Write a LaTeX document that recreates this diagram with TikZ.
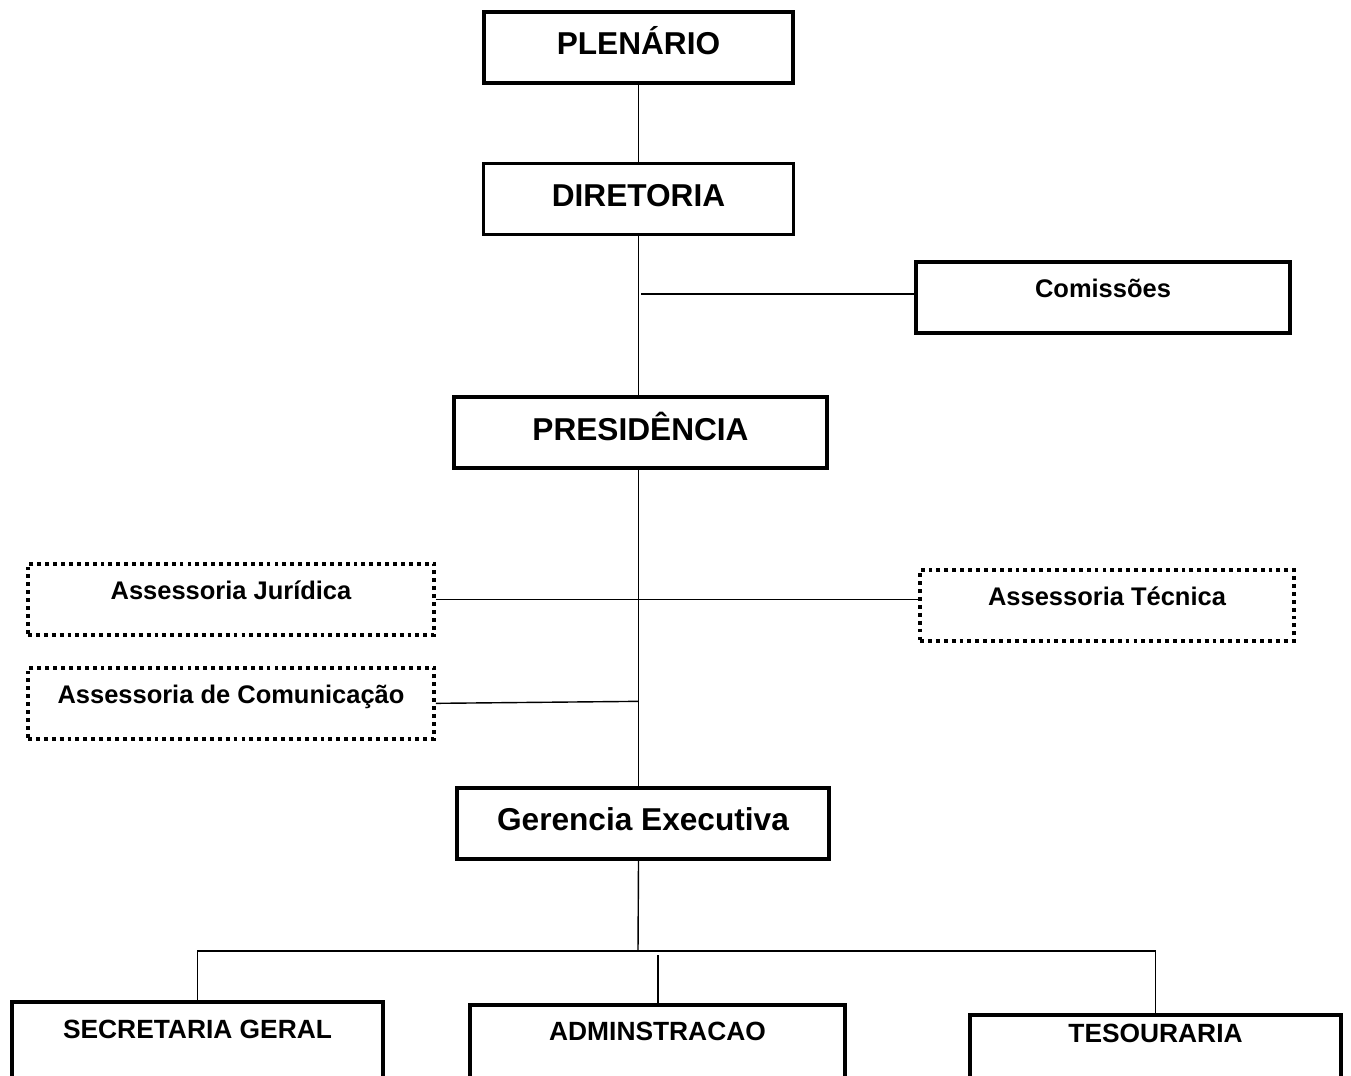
\documentclass[tikz,border=0pt]{standalone}
\usepackage{fontspec}
\setmainfont{Liberation Sans}
\usetikzlibrary{positioning, calc}
\tikzset{
every node/.append style={inner sep=0pt},
box/.style={draw, line width=2.1pt, text height=0.86cm, text depth=0.56cm,
  font=\bfseries\fontsize{18}{21}\selectfont},
aux/.style={draw, line width=2.1pt, text height=0.72cm, text depth=0.7cm,
  font=\bfseries\fontsize{14.5}{17}\selectfont},
assess/.style={aux, dash pattern=on 2.2pt off 2.3pt},
unit/.style={draw, line width=2.1pt, text depth=2cm, anchor=north,
  font=\bfseries\fontsize{15}{18}\selectfont},
link/.style={line width=0.8pt},
}

\begin{document}
\begin{tikzpicture}[x=0.02cm, y=-0.02cm]
            \useasboundingbox (0,0) rectangle (1351,1075);
            \clip (0,0) rectangle (1351,1075);

            % Main line
            \node[box, minimum width=6.18cm, anchor=north] (plen) at (638.5,10) {PLENÁRIO};
            \node[box, minimum width=6.2cm, below=1.54cm of plen] (dir) {DIRETORIA};
            \node[box, minimum width=7.46cm, below=3.18cm of dir, xshift=0.04cm] (pres) {PRESIDÊNCIA};
            \node[box, minimum width=7.44cm, below=6.32cm of pres, xshift=0.05cm] (ger) {Gerencia Executiva};

            % Side boxes
            \node[aux, minimum width=7.48cm, anchor=north] (com) at (1103,260) {Comissões};
            \node[assess, minimum width=8.12cm, anchor=north] (ajur) at (231,562) {Assessoria Jurídica};
            \node[assess, minimum width=7.48cm, anchor=north] (atec) at (1107,568) {Assessoria Técnica};
            \node[assess, minimum width=8.12cm, anchor=north] (acom) at (231,666) {Assessoria de Comunicação};

            % Units
            \node[unit, minimum width=7.42cm, text height=0.74cm] (sec) at (197.5,1000) {SECRETARIA GERAL};
            \node[unit, minimum width=7.5cm, text height=0.72cm] (adm) at (657.5,1003) {ADMINSTRACAO};
            \node[unit, minimum width=7.42cm, text height=0.56cm] (tes) at (1155.5,1013) {TESOURARIA};

            \coordinate (cj) at (641,294);
            \coordinate (bus) at (638,951);
            \coordinate (admtop) at (658,955);

            % Links of the main line
            \draw[link] (plen) -- (dir);
            \draw[link] (dir.south -| plen.south) -- (plen.south |- pres.north);
            \draw[link] (pres.south -| plen.south) -- (plen.south |- ger.north);
            \draw[link] (cj) -- (cj -| com.west);

            % Links of the assessorias
            \draw[link] (ajur.east) -- (ajur.east -| atec.west);
            \draw[link] (acom.east) -- ($(acom.east -| plen.south)+(0,-2)$);

            % Links of the units
            \draw[link] (ger.south -| plen.south) -- (bus);
            \draw[link] (sec.north) |- (bus) -| (tes.north);
            \draw[link] (admtop) -- (admtop |- adm.north);
\end{tikzpicture}
\end{document}
